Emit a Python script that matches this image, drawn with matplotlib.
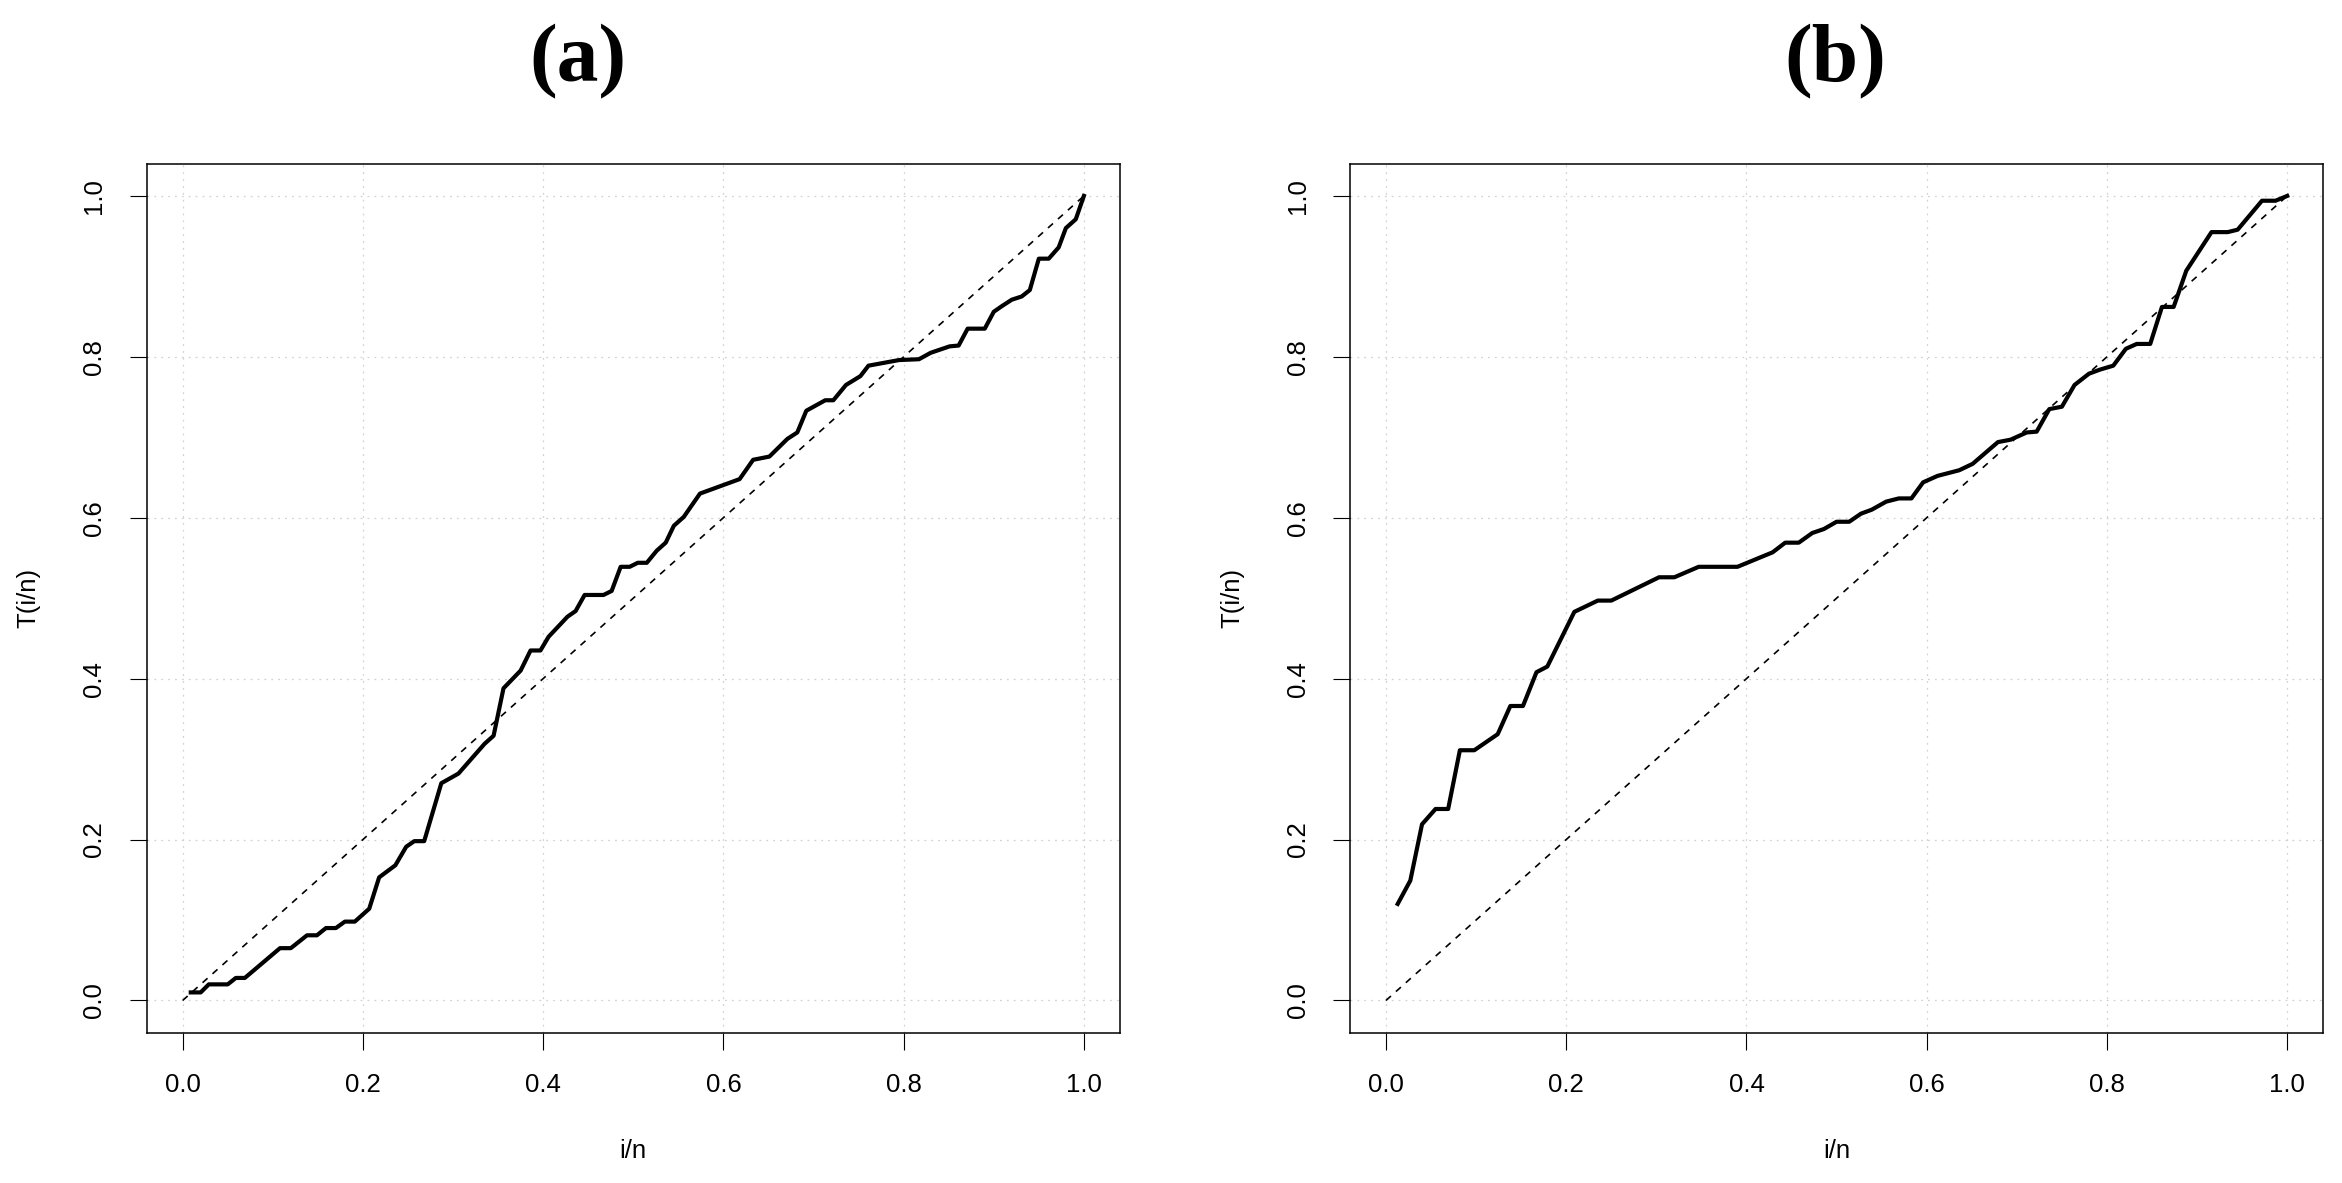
import matplotlib
matplotlib.use("Agg")
import matplotlib.pyplot as plt

# Panel (a): T(i/n) curve
a_x = [0.009, 0.020, 0.029, 0.050, 0.059, 0.069, 0.108, 0.120, 0.138, 0.149,
       0.159, 0.170, 0.180, 0.191, 0.207, 0.218, 0.236, 0.248, 0.257, 0.268,
       0.287, 0.306, 0.335, 0.345, 0.356, 0.375, 0.386, 0.397, 0.406, 0.427,
       0.436, 0.446, 0.467, 0.476, 0.486, 0.496, 0.505, 0.515, 0.526, 0.536,
       0.545, 0.556, 0.574, 0.618, 0.633, 0.651, 0.671, 0.682, 0.692, 0.713,
       0.722, 0.736, 0.752, 0.761, 0.795, 0.817, 0.830, 0.851, 0.861, 0.871,
       0.890, 0.900, 0.909, 0.920, 0.931, 0.940, 0.950, 0.961, 0.972, 0.980,
       0.991, 1.000]
a_y = [0.010, 0.010, 0.020, 0.020, 0.028, 0.028, 0.065, 0.065, 0.081, 0.081,
       0.090, 0.090, 0.098, 0.098, 0.114, 0.153, 0.168, 0.191, 0.198, 0.198,
       0.270, 0.282, 0.319, 0.329, 0.388, 0.410, 0.435, 0.435, 0.452, 0.477,
       0.484, 0.504, 0.504, 0.509, 0.539, 0.539, 0.544, 0.544, 0.559, 0.569,
       0.590, 0.601, 0.630, 0.648, 0.672, 0.676, 0.698, 0.706, 0.733, 0.746,
       0.746, 0.765, 0.776, 0.789, 0.796, 0.797, 0.805, 0.813, 0.814, 0.835,
       0.835, 0.856, 0.863, 0.871, 0.875, 0.883, 0.922, 0.922, 0.936, 0.960,
       0.971, 1.000]

# Panel (b): T(i/n) curve
b_x = [0.013, 0.027, 0.040, 0.055, 0.069, 0.082, 0.098, 0.124, 0.138, 0.152,
       0.167, 0.179, 0.209, 0.235, 0.250, 0.303, 0.320, 0.347, 0.390, 0.429,
       0.443, 0.458, 0.473, 0.486, 0.500, 0.514, 0.527, 0.539, 0.555, 0.569,
       0.583, 0.596, 0.612, 0.636, 0.651, 0.679, 0.693, 0.711, 0.722, 0.736,
       0.750, 0.764, 0.780, 0.792, 0.807, 0.821, 0.833, 0.848, 0.861, 0.874,
       0.888, 0.916, 0.934, 0.945, 0.972, 0.987, 1.000]
b_y = [0.120, 0.149, 0.219, 0.238, 0.238, 0.311, 0.311, 0.331, 0.366, 0.366,
       0.408, 0.415, 0.483, 0.497, 0.497, 0.526, 0.526, 0.539, 0.539, 0.557,
       0.569, 0.569, 0.581, 0.586, 0.595, 0.595, 0.605, 0.610, 0.620, 0.624,
       0.624, 0.644, 0.652, 0.659, 0.667, 0.694, 0.697, 0.706, 0.707, 0.735,
       0.738, 0.765, 0.779, 0.784, 0.789, 0.810, 0.816, 0.816, 0.862, 0.862,
       0.907, 0.955, 0.955, 0.958, 0.994, 0.994, 1.000]

# reference diagonal
ref = [0.0, 1.0]
ticks = [0.0, 0.2, 0.4, 0.6, 0.8, 1.0]
tick_labels = ["0.0", "0.2", "0.4", "0.6", "0.8", "1.0"]

plt.rcParams['font.family'] = ['Liberation Sans', 'DejaVu Sans']

fig = plt.figure(figsize=(23.42, 11.83), dpi=100)
ax_a = fig.add_axes([0.0626, 0.1271, 0.4156, 0.7345])
ax_b = fig.add_axes([0.5764, 0.1271, 0.4156, 0.7345])


def draw_panel(ax, x, y):
    ax.set_xlim(-0.04, 1.04)
    ax.set_ylim(-0.04, 1.04)
    ax.set_xticks(ticks)
    ax.set_yticks(ticks)
    ax.set_xticklabels(tick_labels)
    ax.set_yticklabels(tick_labels, rotation=90, va='center')
    ax.grid(True, color='#d3d3d3', linestyle=(0, (1.5, 4)), linewidth=0.9)
    ax.set_axisbelow(True)
    ax.plot(ref, ref, color='black', linestyle=(0, (4, 4)), linewidth=1.2)
    ax.plot(x, y, color='black', linewidth=3.0, solid_joinstyle='round')
    ax.tick_params(direction='out', length=12, width=0.8, labelsize=18.5, pad=17)
    for s in ax.spines.values():
        s.set_linewidth(1.1)
    ax.set_xlabel("i/n", fontsize=18.5, labelpad=30)
    ax.set_ylabel("T(i/n)", fontsize=18.5, labelpad=30)


draw_panel(ax_a, a_x, a_y)
draw_panel(ax_b, b_x, b_y)

fig.text(0.2468, 0.948, "(a)", ha='center', va='center', fontsize=60,
         fontweight='bold', family=['Liberation Serif', 'DejaVu Serif'])
fig.text(0.7835, 0.948, "(b)", ha='center', va='center', fontsize=60,
         fontweight='bold', family=['Liberation Serif', 'DejaVu Serif'])

fig.savefig("out.png", dpi=100)
